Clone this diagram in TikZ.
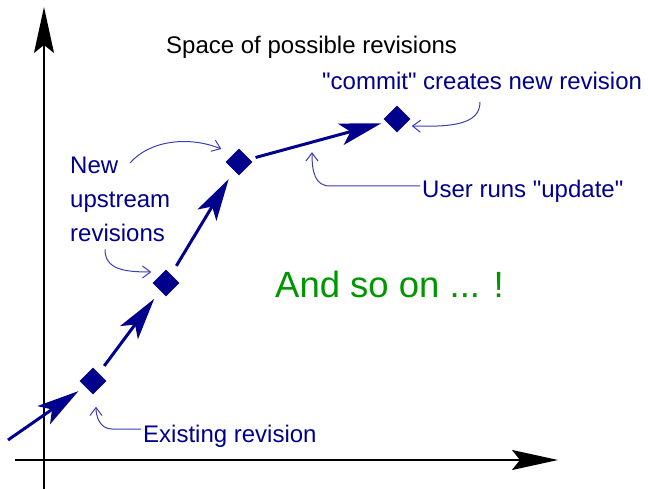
\documentclass[tikz,border=0pt]{standalone}
\usepackage{fontspec}
\setmainfont{Liberation Sans}
\newfontfamily\lsans{Liberation Sans}
\usetikzlibrary{arrows.meta,shapes.geometric,calc}
\definecolor{revc}{RGB}{0,0,140}
\definecolor{notec}{RGB}{60,60,180}
\definecolor{okc}{RGB}{0,150,0}
\begin{document}
\begin{tikzpicture}[x=1pt,y=-1pt,
  revbox/.style={diamond,fill=revc,inner sep=0pt,minimum width=27pt,minimum height=27pt},
  lbl/.style={anchor=base west,inner sep=0pt,font=\lsans\fontsize{24}{34}\selectfont},
  axisline/.style={line width=2pt,-{Stealth[length=46pt,width=20pt,inset=8pt]}},
  flow/.style={draw=revc,line width=3pt,-{Stealth[length=42pt,width=22pt,inset=10pt]}},
  noteline/.style={draw=notec,line width=1pt,-{Straight Barb[length=8pt,width=12pt]}}]
\useasboundingbox (0,0) rectangle (648,489);
% axes
\coordinate (yb) at (44,489);
\coordinate (yt) at (44,7);
\coordinate (xl) at (15,460);
\coordinate (xr) at (558,460);
\draw[axisline] (yb) -- (yt);
\draw[axisline] (xl) -- (xr);
% revisions
\node[revbox] (d1) at (93,381) {};
\node[revbox] (d2) at (166,283) {};
\node[revbox] (d3) at (239,162) {};
\node[revbox] (d4) at (397,119) {};
\coordinate (s0) at (8,440);
\draw[flow,shorten >=8pt] (s0) -- (d1);
\draw[flow,shorten <=9pt,shorten >=10pt] (d1) -- (d2);
\draw[flow,shorten <=10pt,shorten >=10pt] (d2) -- (d3);
\draw[flow,shorten <=6pt,shorten >=5pt] (d3) -- coordinate[pos=0.456] (midflow) (d4);
% labels
\node[lbl] (title) at (166,54) {Space of possible revisions};
\node[lbl,text=revc] (commit) at (322,90) {"commit" creates new revision};
\node[lbl,text=revc] (update) at (422,198) {User runs "update"};
\node[lbl,text=revc,align=left] (upstream) at (70,242) {New\\upstream\\revisions};
\node[lbl,text=okc,font=\lsans\fontsize{36.5}{40}\selectfont] (soon) at (275,297) {And so on ... !};
\node[lbl,text=revc] (exist) at (143,442) {Existing revision};
% annotations
\draw[noteline] ($(exist.base west)+(-2,-13)$) -- ++(-29,0) .. controls +(-12,0) and +(0,10) .. ($(d1.south)+(3,12)$);
\draw[noteline] ($(upstream.base west)+(60,-79)$) .. controls +(20,-23) and +(-32,-13) .. ($(d3.west)+(-4,-13)$);
\draw[noteline] ($(upstream.south west)+(35,7)$) .. controls +(0,20) and +(-27,0) .. ($(d2.west)+(-1,-11)$);
\draw[noteline] ($(update.base west)+(-2,-12)$) -- ++(-90,0) .. controls +(-15,0) and +(0,20) .. ($(midflow)+(0,10)$);
\draw[noteline] ($(commit.base west)+(158,12)$) .. controls +(0,23) and +(39,1) .. ($(d4.east)+(1,7)$);
\end{tikzpicture}
\end{document}
